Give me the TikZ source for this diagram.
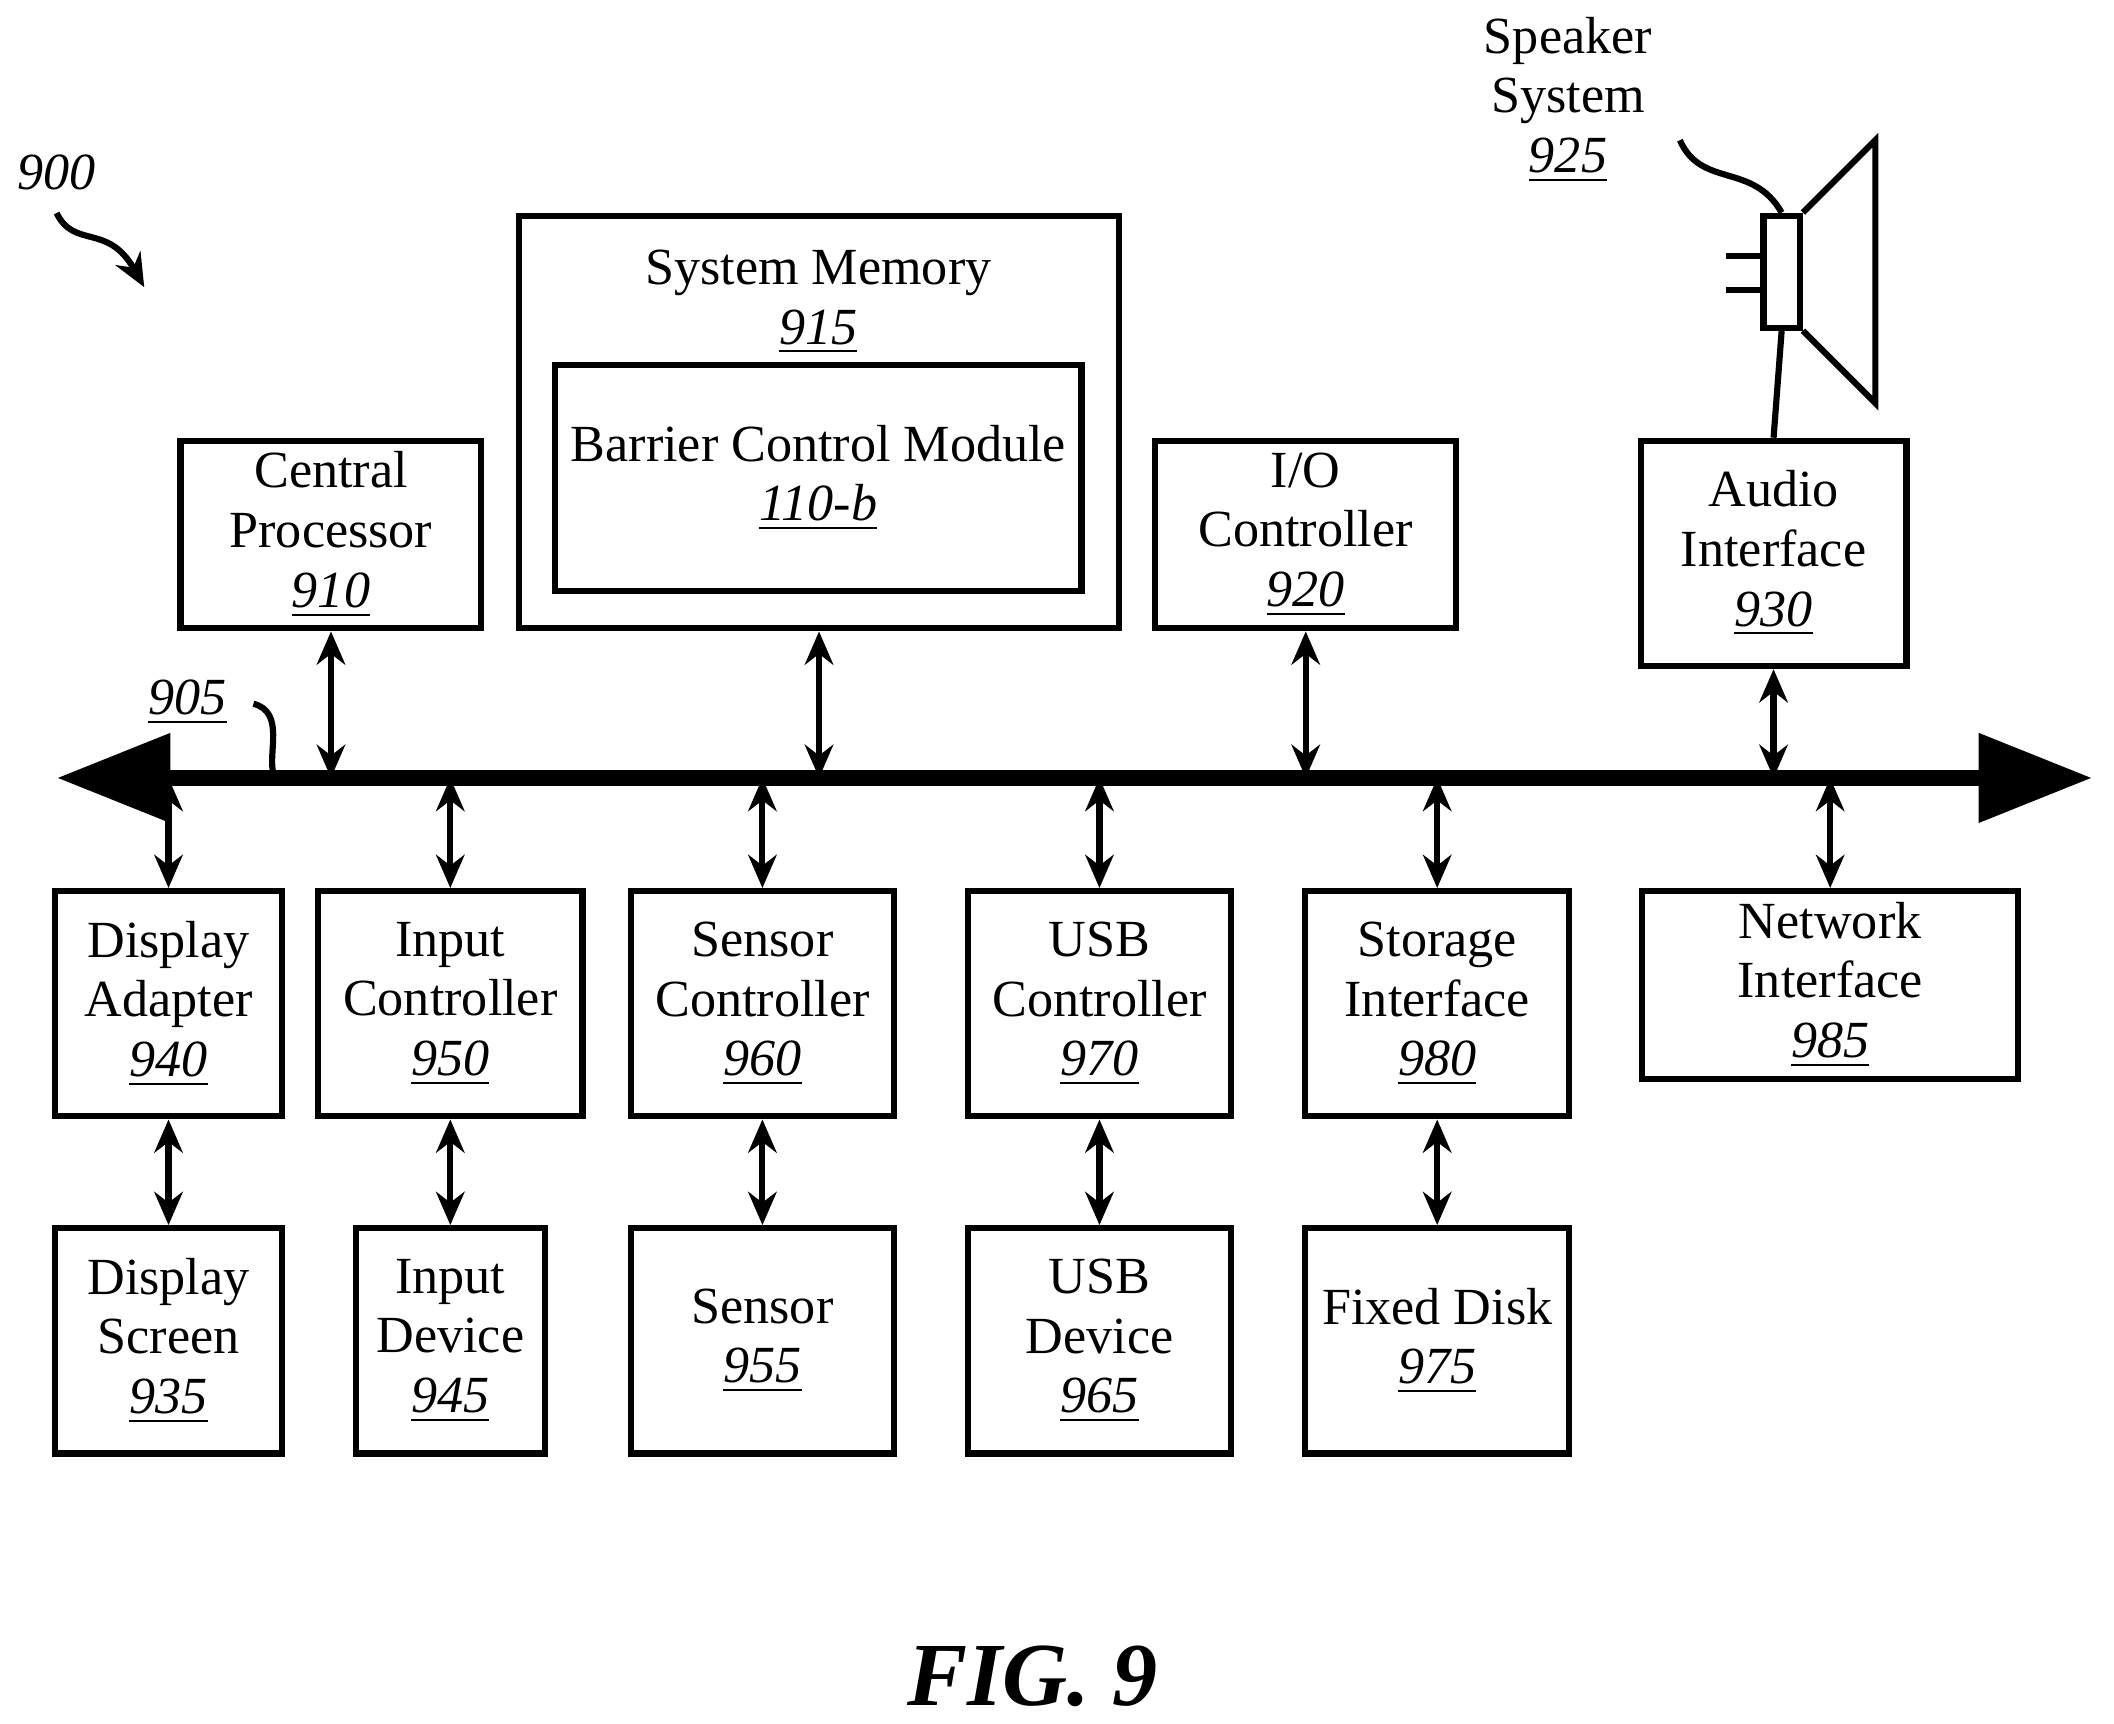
\documentclass[tikz,border=0pt]{standalone}
\usepackage{fontspec}
\setmainfont{Liberation Serif}
\usetikzlibrary{arrows.meta, positioning, calc}
\newcommand{\refnum}[1]{\underline{\textit{#1}}}
\begin{document}
\begin{tikzpicture}[x=0.01cm, y=-0.01cm]
        \tikzstyle{box} = [rectangle, draw, line width=1.3pt, align=center, inner sep=0pt, font=\fontsize{11}{12.6}\selectfont]
        \tikzstyle{link} = [{Stealth[length=7pt,width=6pt]}-{Stealth[length=7pt,width=6pt]}, line width=1.3pt]
        \tikzstyle{lbl} = [font=\fontsize{11}{12.6}\selectfont, align=center]

        \useasboundingbox (0,0) rectangle (1568,1278);

        % Top row
        \node (cpu) [box, minimum width=2.23cm, minimum height=1.39cm] at (245.5,396.5) {Central\\Processor\\\refnum{910}};
        \node (mem) [box, minimum width=4.45cm, minimum height=3.06cm] at (607.5,313) {};
        \node [lbl, anchor=north] at (607,173) {System Memory\\\refnum{915}};
        \node (bcm) [box, minimum width=3.9cm, minimum height=1.67cm] at (607,354.5) {Barrier Control Module\\\refnum{110-b}};
        \node (io) [box, minimum width=2.23cm, minimum height=1.39cm] at (968.5,396.5) {I/O\\Controller\\\refnum{920}};
        \node (audio) [box, minimum width=1.97cm, minimum height=1.67cm] at (1315.5,410.5) {Audio\\Interface\\\refnum{930}};

        % Bus
        \coordinate (busL) at (42,577);
        \coordinate (busR) at (1552,577);
        \draw [{Triangle[length=24pt,width=18pt]}-{Triangle[length=24pt,width=18pt]}, line width=3.5pt] (busL) -- (busR);

        % Middle row
        \node (dadapt) [box, minimum width=1.68cm, minimum height=1.67cm] at (125,744.5) {Display\\Adapter\\\refnum{940}};
        \node (inctl) [box, minimum width=1.96cm, minimum height=1.67cm] at (334,744.5) {Input\\Controller\\\refnum{950}};
        \node (senctl) [box, minimum width=1.95cm, minimum height=1.67cm] at (565.5,744.5) {Sensor\\Controller\\\refnum{960}};
        \node (usbctl) [box, minimum width=1.95cm, minimum height=1.67cm] at (815.5,744.5) {USB\\Controller\\\refnum{970}};
        \node (stor) [box, minimum width=1.96cm, minimum height=1.67cm] at (1066,744.5) {Storage\\Interface\\\refnum{980}};
        \node (net) [box, minimum width=2.79cm, minimum height=1.39cm] at (1357.5,730.5) {Network\\Interface\\\refnum{985}};

        % Bottom row
        \node (dscreen) [box, minimum width=1.68cm, minimum height=1.67cm] at (125,994.5) {Display\\Screen\\\refnum{935}};
        \node (indev) [box, minimum width=1.4cm, minimum height=1.67cm] at (334,994.5) {Input\\Device\\\refnum{945}};
        \node (sensor) [box, minimum width=1.95cm, minimum height=1.67cm] at (565.5,994.5) {Sensor\\\refnum{955}};
        \node (usbdev) [box, minimum width=1.95cm, minimum height=1.67cm] at (815.5,994.5) {USB\\Device\\\refnum{965}};
        \node (disk) [box, minimum width=1.96cm, minimum height=1.67cm] at (1066,994.5) {Fixed Disk\\\refnum{975}};

        % Bus links
        \foreach \n in {cpu, mem, io, audio}
            \draw [link] (\n.south) -- (\n.south |- busL);
        \foreach \n in {dadapt, inctl, senctl, usbctl, stor, net}
            \draw [link] (\n.north) -- (\n.north |- busL);
        \draw [link] (dadapt.south) -- (dscreen.north);
        \draw [link] (inctl.south) -- (indev.north);
        \draw [link] (senctl.south) -- (sensor.north);
        \draw [link] (usbctl.south) -- (usbdev.north);
        \draw [link] (stor.south) -- (disk.north);

        % Speaker
        \node (spk) [rectangle, draw, line width=1.3pt, minimum width=0.27cm, minimum height=0.83cm, inner sep=0pt] at (1321.5,201.5) {};
        \draw [line width=1.3pt] (spk.north east) -- (1391,104) -- (1391,299) -- (spk.south east);
        \draw [line width=1.3pt] (1280,190) -- (spk.west |- 0,190) (1280,215) -- (spk.west |- 0,215);
        \draw [line width=1.3pt] (spk.south) -- (audio.north);
        \draw [line width=1.3pt] (1246,104) .. controls (1262,140) and (1300,120) .. (spk.north);
        \node (spklbl) [lbl] at (1163,74) {Speaker\\System\\\refnum{925}};

        % Reference labels
        \node (lbl900) [lbl] at (42,128) {\textit{900}};
        \draw [-{Stealth[length=7pt,width=6pt]}, line width=1.3pt] (42,158) .. controls (55,185) and (80,165) .. (107,213);
        \node (lbl905) [lbl] at (139,521) {\refnum{905}};
        \draw [line width=1.3pt] (188,522) .. controls (212,528) and (198,560) .. (203,574);

        \node (fig) [font=\fontsize{19}{22}\selectfont\bfseries\itshape] at (766,1243) {FIG. 9};
\end{tikzpicture}
\end{document}
